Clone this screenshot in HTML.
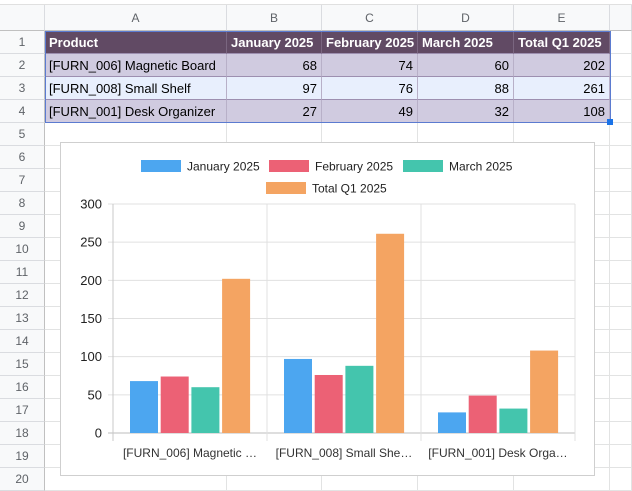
<!DOCTYPE html>
<html><head><meta charset="utf-8"><style>
body{margin:0;width:632px;height:488px;overflow:hidden;background:#fff;font-family:"Liberation Sans",Arial,sans-serif;position:relative}
.a{position:absolute;box-sizing:border-box}
.hdr{background:#f8f9fa;color:#5f6368;font-size:12px;text-align:center}
.cell{font-size:13px;color:#000;padding:0 4px;line-height:23px;white-space:nowrap;overflow:hidden}
</style></head><body>
<div class="a" style="left:0;top:0;width:632px;height:5px;background:#fff;border-bottom:1px solid #e0e0e0"></div>
<div id="sheet"></div>
<div class="a" style="left:60px;top:142px;width:535px;height:334px;background:#fff;border:1px solid #cfcfcf">
<svg id="chart" width="535" height="334" style="position:absolute;left:-1px;top:-1px"></svg>
</div>
<script>
const cols=[["",0,45],["A",45,227],["B",227,322],["C",322,418],["D",418,514],["E",514,610],["",610,632]];
const rowTops=[5,31,54,77,100,123,146,169,192,215,238,261,284,307,330,353,376,399,422,445,468,491];
const sheet=document.getElementById('sheet');
function div(css,txt,cls){const d=document.createElement('div');d.className='a '+(cls||'');d.style.cssText=css;if(txt!==undefined)d.textContent=txt;sheet.appendChild(d);return d;}
// column headers
cols.forEach((c,i)=>{const d=div(`left:${c[1]}px;top:5px;width:${c[2]-c[1]}px;height:26px;line-height:26px;border-right:1px solid #dadce0;border-bottom:1px solid #c0c0c0`,c[0],'hdr');

});
// row headers & grid
for(let r=1;r<=20;r++){const t=rowTops[r],h=rowTops[r+1]-t;
const d=div(`left:0;top:${t}px;width:45px;height:${h}px;line-height:${h}px;border-bottom:1px solid #dadce0;border-right:1px solid #c0c0c0`,String(r),'hdr');


for(let c=1;c<cols.length;c++){const g=div(`left:${cols[c][1]}px;top:${t}px;width:${cols[c][2]-cols[c][1]}px;height:${h}px;border-right:1px solid #e2e3e3;border-bottom:1px solid #e2e3e3`);

}}
const table=[["Product","January 2025","February 2025","March 2025","Total Q1 2025"],
["[FURN_006] Magnetic Board","68","74","60","202"],
["[FURN_008] Small Shelf","97","76","88","261"],
["[FURN_001] Desk Organizer","27","49","32","108"]];
const rowBg=["#614a64","#d0cbe0","#e8effd","#d0cbe0"];
table.forEach((row,ri)=>{const t=rowTops[ri+1],h=23;
row.forEach((v,ci)=>{const c=cols[ci+1];
const d=div(`left:${c[1]}px;top:${t}px;width:${c[2]-c[1]}px;height:${h}px;background:${rowBg[ri]};border-right:1px solid ${ri==0?'#7a6680':'#b8b0c8'};border-bottom:1px solid #9d8fb0;text-align:${ri>0&&ci>0?'right':'left'};${ri==0?'color:#fff;font-weight:bold;':''}`,v,'cell');

});});
const sel=div('left:45px;top:31px;width:566px;height:92px;border:1px solid #5b7bd0;');


const hd=div('left:607px;top:119px;width:6px;height:6px;background:#1a73e8;');


</script>
<script>
const categories=["[FURN_006] Magnetic …","[FURN_008] Small She…","[FURN_001] Desk Orga…"];
const seriesNames=["January 2025","February 2025","March 2025","Total Q1 2025"];
const jan=[68,97,27];
const feb=[74,76,49];
const mar=[60,88,32];
const tot=[202,261,108];
const yTicks=[0,50,100,150,200,250,300];
const colors=["#4ca6f0","#ec6175","#44c5ad","#f4a462"];
const series=[jan,feb,mar,tot];
const svg=document.getElementById('chart');const NS="http://www.w3.org/2000/svg";
// chart-local coords: offset 60,142
const ox=60,oy=142;
const px0=113-ox,px1=575-ox,py0=433-oy,py1=204-oy;
const y=v=>py0+(py1-py0)*v/300;
const gw=(px1-px0)/categories.length;
const x=(g,s)=>px0+g*gw+17+s*30.7;
function el(tag,attrs,txt){const e=document.createElementNS(NS,tag);for(const k in attrs)e.setAttribute(k,attrs[k]);if(txt!==undefined)e.textContent=txt;svg.appendChild(e);return e;}
yTicks.forEach(v=>{const l=el('line',{x1:px0-5,x2:px1,y1:y(v),y2:y(v),stroke:v==0?'#bdbdbd':'#e0e0e0'});


const t=el('text',{x:px0-11,y:y(v)+4.5,'text-anchor':'end','font-size':13,fill:'#222','font-family':'Liberation Sans, sans-serif'},String(v));

});
for(let g=0;g<=categories.length;g++){const l=el('line',{x1:px0+g*gw,x2:px0+g*gw,y1:py1,y2:py0+8,stroke:g==0?'#c8c8c8':'#e0e0e0'});

}
categories.forEach((c,g)=>{series.forEach((s,si)=>{const r=el('rect',{x:x(g,si),y:y(s[g]),width:28,height:py0-y(s[g]),fill:colors[si]});

});
const t=el('text',{x:px0+g*gw+gw/2,y:py0+24,'text-anchor':'middle','font-size':12,fill:'#333','font-family':'Liberation Sans, sans-serif'},c);

});
const leg=[[141,166],[269,166],[403,166],[266,188]];
seriesNames.forEach((n,i)=>{const r=el('rect',{x:leg[i][0]-ox,y:leg[i][1]-oy-6,width:40,height:12,fill:colors[i]});


const t=el('text',{x:leg[i][0]-ox+46,y:leg[i][1]-oy+4.5,'font-size':12,fill:'#222','font-family':'Liberation Sans, sans-serif'},n);

});
</script>
</body></html>
